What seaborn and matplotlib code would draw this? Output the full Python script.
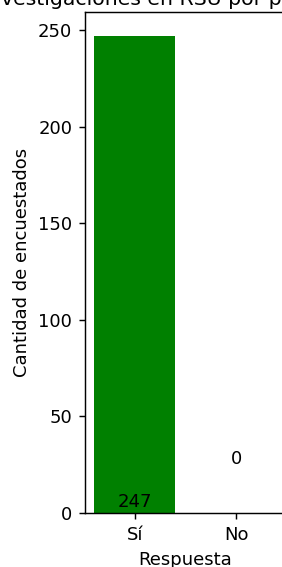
import matplotlib
matplotlib.use("Agg")
import matplotlib.pyplot as plt
import seaborn as sns

# Datos
respuestas = ["Sí", "No"]
conteos = [247, 0]
titulo = "¿Conoce las investigaciones en RSU por parte de la universidad?"

DPI = 130
fig = plt.figure(figsize=(282 / DPI, 567 / DPI), dpi=DPI)
ax = fig.add_axes([85 / 282, 54 / 567, 201 / 282, 501 / 567])
sns.barplot(x=respuestas, y=conteos, color="green", saturation=1, ax=ax)
ax.set_xlim(-0.49, 1.49)
ax.set_ylim(0, max(conteos) * 1.05)
ax.set_title(titulo, fontsize=11.3, pad=4)
ax.set_xlabel("Respuesta")
ax.set_ylabel("Cantidad de encuestados")

# Etiquetas de valores
for i, v in enumerate(conteos):
    ax.text(i, 28 - v * 0.09, str(v), ha="center", va="center", fontsize=10)

fig.savefig("out.png", dpi=DPI)
plt.close()
